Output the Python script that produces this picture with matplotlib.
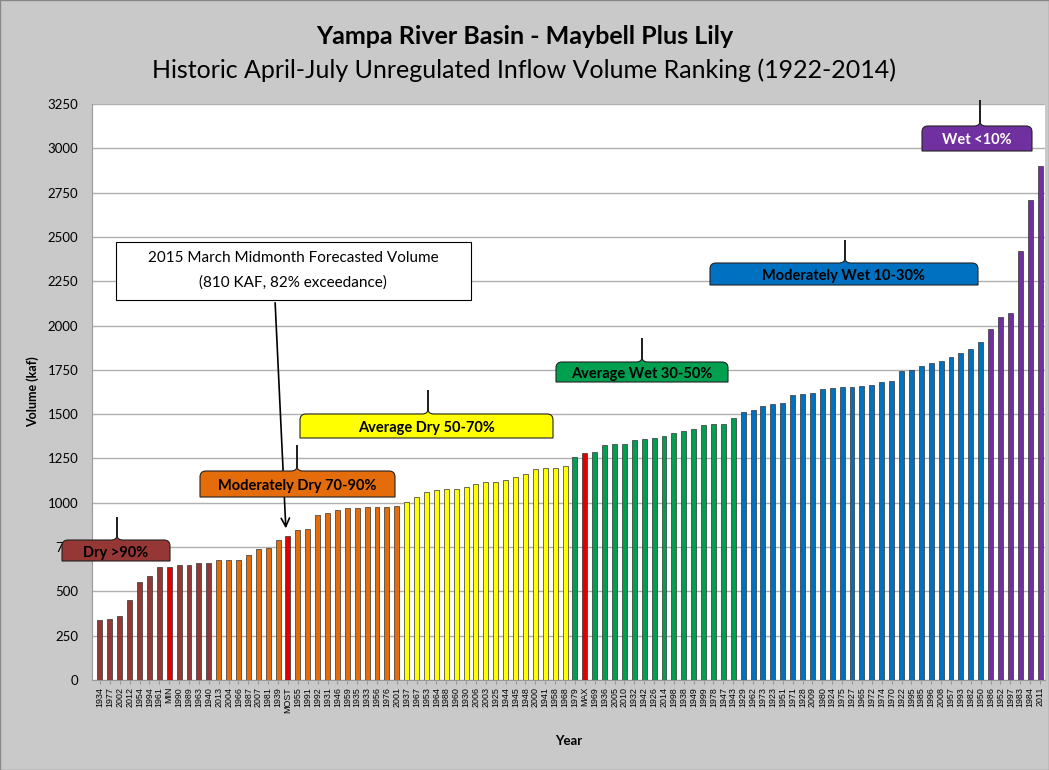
import matplotlib.pyplot as plt
from matplotlib.path import Path
from matplotlib.patches import PathPatch, Rectangle

plt.rcParams['font.family'] = ['Lato', 'DejaVu Sans']

# ranked years (driest -> wettest), plus forecast markers
years = ["1934", "1977", "2002", "2012", "1954", "1994", "1961", "MIN", "1990", "1989", "1963", "1940",
         "2013", "2004", "1966", "1987", "2007", "1981", "1939", "MOST", "1955", "1991", "1992", "1931",
         "1946", "1959", "1935", "1933", "1956", "1976", "2001",
         "1937", "1967", "1953", "1964", "1988", "1960", "1930", "2006", "2003", "1925", "1944", "1945",
         "1948", "2000", "1941", "1958", "1968",
         "1979", "MAX", "1969", "1936", "2005", "2010", "1932", "1942", "1926", "2014", "1998", "1938",
         "1949", "1999", "1978", "1947", "1943",
         "1929", "1962", "1973", "1923", "1951", "1971", "1928", "2009", "1980", "1924", "1975", "1927",
         "1965", "1972", "1974", "1970", "1922", "1995", "1985", "1996", "2008", "1957", "1993", "1982",
         "1950",
         "1986", "1952", "1997", "1983", "1984", "2011"]

volume = [338, 342, 361, 449, 555, 587, 635, 639, 650, 650, 658, 658,
          675, 679, 679, 705, 737, 746, 791, 810, 846, 854, 932, 940, 962, 968, 972, 975, 975, 978, 980,
          1006, 1030, 1062, 1072, 1075, 1075, 1089, 1104, 1117, 1120, 1130, 1143, 1160, 1188, 1196, 1199, 1209,
          1258, 1280, 1288, 1324, 1329, 1329, 1354, 1359, 1363, 1378, 1393, 1404, 1418, 1438, 1444, 1446, 1476,
          1513, 1525, 1545, 1560, 1562, 1610, 1612, 1620, 1640, 1650, 1652, 1655, 1660, 1665, 1680, 1685,
          1745, 1750, 1770, 1790, 1800, 1820, 1845, 1870, 1905,
          1980, 2050, 2070, 2420, 2710, 2900]

class_counts = [12, 19, 17, 17, 25, 6]
class_colors = ["#953735", "#E46C0A", "#FFFF00", "#00A050", "#0070C0", "#7030A0"]
class_names = ["Dry >90%", "Moderately Dry 70-90%", "Average Dry 50-70%",
               "Average Wet 30-50%", "Moderately Wet 10-30%", "Wet <10%"]
special = ["MIN", "MOST", "MAX"]

W, H = 1049, 770
fig = plt.figure(figsize=(W / 100, H / 100), dpi=100, facecolor="#c9c9c9")
ax = fig.add_axes([92 / W, 1 - 680 / H, (1045 - 92) / W, (680 - 104) / H])
ax.set_facecolor("white")

colors = []
for n, c in zip(class_counts, class_colors):
    colors += [c] * n
colors = ["#E00000" if y in special else c for y, c in zip(years, colors)]

x = list(range(len(years)))
ax.bar(x, volume, width=0.5, color=colors, edgecolor="#333333", linewidth=0.5, zorder=3)

ax.set_xlim(-0.8, len(years) - 0.5)
ax.set_ylim(0, 3250)
ax.set_yticks(range(0, 3251, 250))
ax.set_xticks(x)
ax.set_xticklabels(years, rotation=90, fontsize=6.4, family="Liberation Sans")
ax.tick_params(axis="y", labelsize=9.5, length=0, pad=10)
ax.tick_params(axis="x", length=3, color="#999999", pad=2)
ax.grid(axis="y", color="#b0b0b0", linewidth=1, zorder=0)
for s in ["top", "right"]:
    ax.spines[s].set_visible(False)
ax.spines["left"].set_color("#999999")
ax.spines["bottom"].set_color("#999999")
ax.set_ylabel("Volume (kaf)", fontsize=9, fontweight="bold", labelpad=6)
ax.set_xlabel("Year", fontsize=9.5, fontweight="bold", labelpad=16)

fig.text(0.5, 1 - 37 / H, "Yampa River Basin - Maybell Plus Lily", ha="center", va="center",
         fontsize=18, fontweight="bold")
fig.text(0.5, 1 - 70 / H, "Historic April-July Unregulated Inflow Volume Ranking (1922-2014)",
         ha="center", va="center", fontsize=18)


def fx(px):
    return px / W


def fy(py):
    return 1 - py / H


def brace_box(x0, x1, y0, y1, xc, ytip, color, label, tcolor="black"):
    r = 6
    pts = [(x0, y1), (x0, y0 + r), (x0, y0), (x0 + r, y0),
           (xc - 6, y0), (xc, y0), (xc, y0 - 5), (xc, ytip),
           (xc, y0 - 5), (xc, y0), (xc + 6, y0),
           (x1 - r, y0), (x1, y0), (x1, y0 + r), (x1, y1), (x0, y1)]
    codes = [Path.MOVETO, Path.LINETO, Path.CURVE3, Path.CURVE3,
             Path.LINETO, Path.CURVE3, Path.CURVE3, Path.LINETO,
             Path.LINETO, Path.CURVE3, Path.CURVE3,
             Path.LINETO, Path.CURVE3, Path.CURVE3, Path.LINETO, Path.CLOSEPOLY]
    path = Path([(fx(a), fy(b)) for a, b in pts], codes)
    fig.patches.append(PathPatch(path, facecolor=color, edgecolor="#222222", linewidth=0.8,
                                 transform=fig.transFigure, zorder=5))
    fig.text(fx((x0 + x1) / 2), fy((y0 + y1) / 2 + 2), label, ha="center", va="center",
             fontsize=10.5, fontweight="bold", color=tcolor, zorder=6)


boxes = [(62, 170, 540, 561, 117, 517),
         (200, 395, 471, 497, 297, 445),
         (300, 553, 414, 438, 428, 390),
         (556, 728, 362, 382, 642, 338),
         (710, 978, 263, 285, 845, 240),
         (922, 1032, 126, 151, 980, 100)]
for i, (b, c, name) in enumerate(zip(boxes, class_colors, class_names)):
    brace_box(*b, c, name, tcolor="white" if i == 5 else "black")

# forecast callout
fig.patches.append(Rectangle((fx(116), fy(300)), fx(471) - fx(116), fy(242) - fy(300),
                             facecolor="white", edgecolor="black", linewidth=0.8,
                             transform=fig.transFigure, zorder=5))
fig.text(fx(293), fy(258), "2015 March Midmonth Forecasted Volume", ha="center", va="center",
         fontsize=11, zorder=6)
fig.text(fx(293), fy(283), "(810 KAF, 82% exceedance)", ha="center", va="center",
         fontsize=11, zorder=6)
most = years.index("MOST")
ax.annotate("", xy=(most - 0.2, volume[most] + 30), xycoords="data",
            xytext=(fx(275), fy(300)), textcoords="figure fraction",
            arrowprops=dict(arrowstyle="->", color="black", lw=1.2, mutation_scale=15), zorder=6)

fig.patches.append(Rectangle((0, 0), 1, 1, fill=False, edgecolor="#888888", linewidth=1,
                             transform=fig.transFigure))
fig.savefig("out.png", dpi=100, facecolor=fig.get_facecolor())
